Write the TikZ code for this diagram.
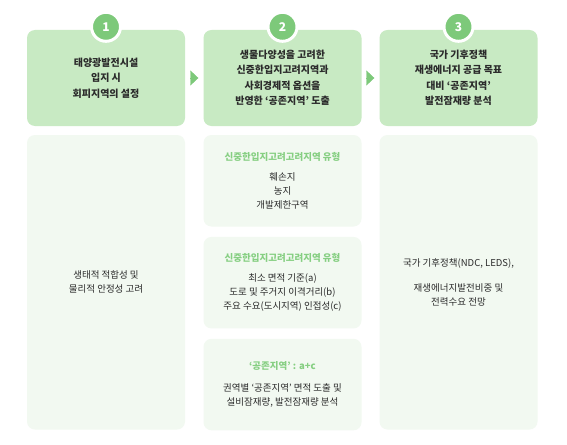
\documentclass[tikz,border=0pt]{standalone}
\usepackage{fontspec}
\setmainfont{Noto Sans CJK KR}
\usetikzlibrary{arrows.meta,calc,positioning}
\definecolor{Leaf}{HTML}{C8EAC3}
\definecolor{Mint}{HTML}{F2F9F1}
\definecolor{Fern}{HTML}{7DC97A}
\definecolor{Sprout}{HTML}{86CF82}
\definecolor{Ink}{HTML}{2B2B2B}

\begin{document}
\begin{tikzpicture}[x=1pt, y=-1pt, node distance=10pt,
    stage/.style={fill=Leaf, rounded corners=8pt, minimum width=158pt, minimum height=96pt, align=center, text=Ink, font=\fontsize{10}{15.5}\selectfont\bfseries},
    detail/.style={fill=Mint, rounded corners=8pt, minimum width=158pt, minimum height=91.5pt, align=center, text=Ink, font=\fontsize{9.5}{14}\selectfont},
    badge/.style={circle, fill=Fern, draw=white, line width=3pt, minimum size=29pt, inner sep=0pt, text=white, font=\fontsize{12}{12}\selectfont\bfseries},
    pointer/.style={Fern, -{Triangle[length=8pt,width=15pt]}, shorten <=5pt, shorten >=5pt}]
    \fill[white] (0,0) rectangle (567,444);
    \useasboundingbox (0,0) rectangle (567,444);
    % stages
    \node[stage] (s1) at (106,78) {태양광발전시설\\입지 시\\회피지역의 설정};
    \node[stage] (s2) at (282.5,78) {생물다양성을 고려한\\신중한입지고려지역과\\사회경제적 옵션을\\반영한 ‘공존지역’ 도출};
    \node[stage] (s3) at (458.5,78) {국가 기후정책\\재생에너지 공급 목표\\대비 ‘공존지역’\\발전잠재량 분석};
    \node[badge] (n1) at ($(s1.north)+(0,-3)$) {1};
    \node[badge] (n2) at ($(s2.north)+(0,-3)$) {2};
    \node[badge] (n3) at ($(s3.north)+(0,-3)$) {3};
    \draw[pointer] (s1) -- (s2);
    \draw[pointer] (s2) -- (s3);
    % details
    \node[detail, minimum height=294.5pt] (d1) at (106,282.25) {생태적 적합성 및\\물리적 안정성 고려};
    \node[detail] (d2a) at (282.5,180.75) {{\color{Sprout}\bfseries 신중한입지고려고려지역 유형}\\[6pt]훼손지\\농지\\개발제한구역};
    \node[detail, below=of d2a] (d2b) {{\color{Sprout}\bfseries 신중한입지고려고려지역 유형}\\[6pt]최소 면적 기준(a)\\도로 및 주거지 이격거리(b)\\주요 수요(도시지역) 인접성(c)};
    \node[detail, below=of d2b] (d2c) {{\color{Sprout}\bfseries ‘공존지역’ : a+c}\\[8pt]권역별 ‘공존지역’ 면적 도출 및\\설비잠재량, 발전잠재량 분석};
    \node[detail, minimum height=294.5pt] (d3) at (458.5,282.25) {국가 기후정책(NDC, LEDS),\\[11pt]재생에너지발전비중 및\\전력수요 전망};
  \end{tikzpicture}
\end{document}
